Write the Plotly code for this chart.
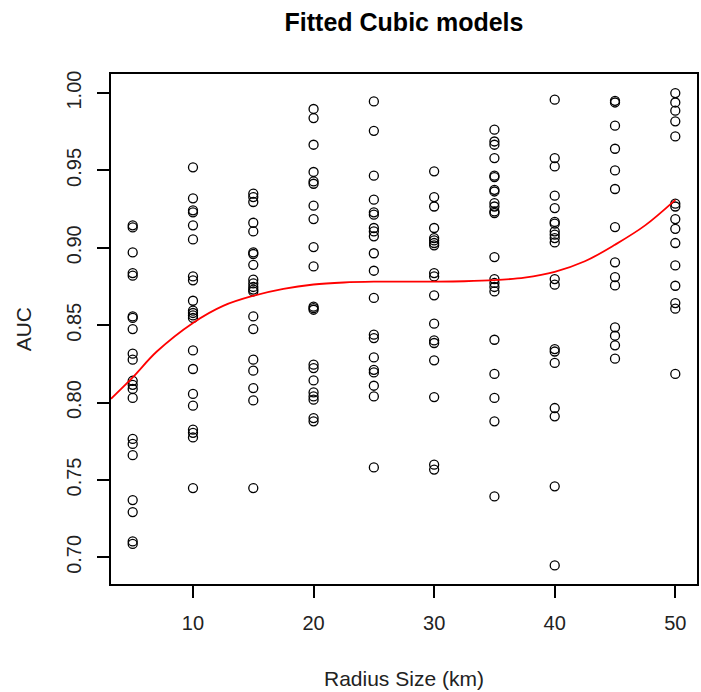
import plotly.graph_objects as go

# ---- data ----
radius_levels = [5, 10, 15, 20, 25, 30, 35, 40, 45, 50]

auc_r5 = [0.9145, 0.9132, 0.897, 0.8837, 0.882, 0.8557, 0.8547, 0.8475, 0.8316, 0.8277,
          0.8141, 0.8115, 0.8088, 0.803, 0.7765, 0.7733, 0.766, 0.737, 0.7293, 0.7103, 0.7087]
auc_r10 = [0.952, 0.932, 0.9242, 0.9229, 0.9145, 0.9054, 0.8815, 0.879, 0.8658, 0.8594,
           0.8579, 0.8563, 0.8547, 0.8337, 0.8217, 0.8056, 0.798, 0.7825, 0.7805, 0.7775, 0.7448]
auc_r15 = [0.935, 0.9328, 0.9296, 0.9162, 0.9106, 0.897, 0.896, 0.889, 0.8794, 0.877,
           0.8747, 0.873, 0.8718, 0.8557, 0.8475, 0.8277, 0.8206, 0.8094, 0.8014, 0.7448]
auc_r20 = [0.9897, 0.9838, 0.9666, 0.949, 0.9429, 0.9414, 0.9272, 0.9186, 0.9005, 0.888,
           0.862, 0.861, 0.86, 0.8245, 0.8223, 0.8143, 0.8066, 0.804, 0.8019, 0.79, 0.7879]
auc_r25 = [0.9946, 0.9756, 0.9466, 0.9311, 0.9229, 0.9214, 0.9128, 0.9106, 0.9074, 0.8965,
           0.8852, 0.8676, 0.8439, 0.8417, 0.8292, 0.8212, 0.8195, 0.8109, 0.804, 0.7581]
auc_r30 = [0.9494, 0.9328, 0.9267, 0.9128, 0.9063, 0.9048, 0.9031, 0.9016, 0.8837, 0.8815,
           0.8693, 0.851, 0.8402, 0.8385, 0.8273, 0.8036, 0.7599, 0.7567]
auc_r35 = [0.9763, 0.9687, 0.9666, 0.958, 0.9466, 0.9457, 0.9375, 0.9364, 0.9289, 0.9267,
           0.9235, 0.9225, 0.894, 0.8798, 0.8773, 0.8747, 0.8718, 0.8406, 0.8185, 0.803,
           0.7879, 0.7394]
auc_r40 = [0.9957, 0.958, 0.9526, 0.9337, 0.9257, 0.9167, 0.9156, 0.9106, 0.9085, 0.9063,
           0.9035, 0.8798, 0.8762, 0.8346, 0.833, 0.8256, 0.7965, 0.7911, 0.7459, 0.6948]
auc_r45 = [0.995, 0.9939, 0.9789, 0.964, 0.95, 0.938, 0.9134, 0.8906, 0.8811, 0.8757,
           0.8486, 0.8432, 0.837, 0.8284]
auc_r50 = [1.0, 0.9939, 0.9886, 0.9817, 0.972, 0.9285, 0.9267, 0.9186, 0.9123, 0.9031,
           0.8886, 0.8755, 0.8643, 0.8607, 0.8185]

auc_by_radius = [auc_r5, auc_r10, auc_r15, auc_r20, auc_r25,
                 auc_r30, auc_r35, auc_r40, auc_r45, auc_r50]

# fitted cubic curve
curve_x = [3.2, 5, 7, 10, 12.5, 15, 17.5, 20, 22.5, 25, 27.5, 30, 32.5, 35, 37.5,
           40, 42.5, 45, 47.5, 50]
curve_auc = [0.8025, 0.8163, 0.833, 0.8515, 0.8625, 0.8690, 0.8735, 0.8763, 0.8776,
             0.8781, 0.8782, 0.8782, 0.8784, 0.8791, 0.8808, 0.8845, 0.8913, 0.902,
             0.9145, 0.931]

x_ticks = [10, 20, 30, 40, 50]
y_ticks = [0.70, 0.75, 0.80, 0.85, 0.90, 0.95, 1.00]
y_tick_labels = ["0.70", "0.75", "0.80", "0.85", "0.90", "0.95", "1.00"]

# ---- build figure ----
xs, ys = [], []
for r, vals in zip(radius_levels, auc_by_radius):
    xs += [r] * len(vals)
    ys += vals

FONT = "Liberation Sans, Arial, sans-serif"

fig = go.Figure()
fig.add_trace(go.Scatter(
    x=xs, y=ys, mode="markers",
    marker=dict(symbol="circle-open", size=9, color="black",
                line=dict(color="black", width=1.3)),
    showlegend=False, hoverinfo="x+y"))
fig.add_trace(go.Scatter(
    x=curve_x, y=curve_auc, mode="lines",
    line=dict(color="#ff0000", width=1.8, shape="spline", smoothing=1.0),
    showlegend=False))

axis_common = dict(showgrid=False, zeroline=False, showline=True, linecolor="black",
                   linewidth=1.5, mirror=True, ticks="outside", ticklen=12,
                   tickwidth=1.5, tickcolor="black",
                   tickfont=dict(family=FONT, size=20, color="#222"))

fig.update_layout(
    width=701, height=692,
    margin=dict(l=111, r=2, t=74, b=108),
    paper_bgcolor="white", plot_bgcolor="white",
    title=dict(text="<b>Fitted Cubic models</b>", x=0.5, xref="paper",
               xanchor="center", y=1 - 22 / 692, yref="container", yanchor="middle",
               font=dict(family=FONT, size=25, color="black")),
    xaxis=dict(range=[3.2, 51.8], tickvals=x_ticks, ticklabelstandoff=8, **axis_common),
    yaxis=dict(range=[0.6828, 1.0123], tickvals=y_ticks, ticktext=y_tick_labels,
               tickangle=-90, ticklabelstandoff=8, **axis_common),
    annotations=[
        dict(text="Radius Size (km)", xref="paper", yref="paper", x=0.5,
             y=(584 - 678) / 510, xanchor="center", yanchor="middle",
             showarrow=False, font=dict(family=FONT, size=21, color="#222")),
        dict(text="AUC", xref="paper", yref="paper", x=(23 - 111) / 588, y=0.5,
             xanchor="center", yanchor="middle", textangle=-90,
             showarrow=False, font=dict(family=FONT, size=21, color="#222")),
    ],
)

fig.write_html("out.html")
